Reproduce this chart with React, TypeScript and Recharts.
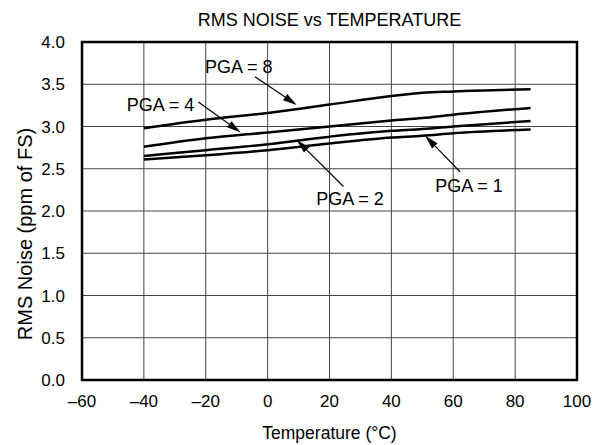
import React from "react";
import {
  LineChart,
  Line,
  XAxis,
  YAxis,
  CartesianGrid,
  ReferenceArea,
  ReferenceLine,
  ReferenceDot,
} from "recharts";

const temperatures = [-40, -20, 0, 20, 40, 50, 60, 85];
const pga8 = [2.98, 3.08, 3.16, 3.26, 3.36, 3.4, 3.415, 3.44];
const pga4 = [2.76, 2.86, 2.93, 3.0, 3.07, 3.1, 3.14, 3.22];
const pga2 = [2.65, 2.72, 2.79, 2.88, 2.95, 2.97, 3.0, 3.065];
const pga1 = [2.61, 2.66, 2.72, 2.8, 2.87, 2.89, 2.92, 2.965];

const xTicks = [-60, -40, -20, 0, 20, 40, 60, 80, 100];
const yTicks = [0, 0.5, 1.0, 1.5, 2.0, 2.5, 3.0, 3.5, 4.0];

const labelTexts = ["PGA = 8", "PGA = 4", "PGA = 2", "PGA = 1"];
const labelX = [-9.3, -34.6, 26.6, 65.1];
const labelY = [3.71, 3.25, 2.14, 2.3];
const arrowFrom = [
  [-4.1, 3.59],
  [-22.4, 3.29],
  [24.5, 2.29],
  [62.2, 2.465],
];
const arrowTo = [
  [9.4, 3.255],
  [-8.7, 2.93],
  [9.4, 2.84],
  [50.9, 2.89],
];

const data = temperatures.map((t, i) => ({
  t,
  pga8: pga8[i],
  pga4: pga4[i],
  pga2: pga2[i],
  pga1: pga1[i],
}));

const FONT = "Arial, 'Liberation Sans', sans-serif";

const fmtX = (v: number) => (v < 0 ? "\u2013" + Math.abs(v) : String(v));
const fmtY = (v: number) => v.toFixed(1);

const Arrow = (props: any) => {
  const { x1, y1, x2, y2 } = props;
  const dx = x2 - x1;
  const dy = y2 - y1;
  const len = Math.sqrt(dx * dx + dy * dy) || 1;
  const ux = dx / len;
  const uy = dy / len;
  const hl = 14;
  const hw = 3.8;
  const bx = x2 - ux * hl;
  const by = y2 - uy * hl;
  const px = -uy;
  const py = ux;
  return (
    <g>
      <line x1={x1} y1={y1} x2={bx} y2={by} stroke="#000" strokeWidth={1.2} />
      <polygon
        points={`${x2},${y2} ${bx + px * hw},${by + py * hw} ${bx - px * hw},${by - py * hw}`}
        fill="#000"
      />
    </g>
  );
};

const makeLabel = (text: string) => (p: any) => (
  <text
    x={p.cx}
    y={p.cy}
    textAnchor="middle"
    dominantBaseline="central"
    fontFamily={FONT}
    fontSize={18}
    fill="#000"
  >
    {text}
  </text>
);

export default function App() {
  return (
    <div style={{ position: "absolute", left: 0, top: 0, background: "#fff" }}>
      <LineChart
        width={594}
        height={445}
        data={data}
        margin={{ top: 42, right: 17, left: 0, bottom: 0 }}
      >
        <text
          x={329.5}
          y={20}
          textAnchor="middle"
          dominantBaseline="central"
          fontFamily={FONT}
          fontSize={18}
          fill="#000"
        >
          RMS NOISE vs TEMPERATURE
        </text>
        <text
          x={329.5}
          y={433}
          textAnchor="middle"
          dominantBaseline="central"
          fontFamily={FONT}
          fontSize={17.5}
          fill="#000"
        >
          Temperature (°C)
        </text>
        <text
          x={25}
          y={234}
          textAnchor="middle"
          dominantBaseline="central"
          fontFamily={FONT}
          fontSize={20}
          fill="#000"
          transform="rotate(-90 25 234)"
        >
          RMS Noise (ppm of FS)
        </text>
        <CartesianGrid stroke="#444" strokeWidth={1} />
        <XAxis
          dataKey="t"
          type="number"
          domain={[-60, 100]}
          ticks={xTicks}
          tickFormatter={fmtX}
          tickLine={false}
          axisLine={false}
          tickSize={0}
          tickMargin={15}
          height={65}
          tick={{ fill: "#000", fontSize: 17, fontFamily: FONT }}
        />
        <YAxis
          type="number"
          domain={[0, 4]}
          ticks={yTicks}
          tickFormatter={fmtY}
          tickLine={false}
          axisLine={false}
          tickSize={0}
          tickMargin={17}
          width={82}
          tick={{ fill: "#000", fontSize: 17, fontFamily: FONT }}
        />
        <ReferenceArea
          x1={-60}
          x2={100}
          y1={0}
          y2={4}
          fill="none"
          fillOpacity={0}
          stroke="#000"
          strokeWidth={2.5}
          ifOverflow="visible"
        />
        <Line dataKey="pga8" type="monotone" stroke="#000" strokeWidth={2.5} dot={false} isAnimationActive={false} />
        <Line dataKey="pga4" type="monotone" stroke="#000" strokeWidth={2.5} dot={false} isAnimationActive={false} />
        <Line dataKey="pga2" type="monotone" stroke="#000" strokeWidth={2.5} dot={false} isAnimationActive={false} />
        <Line dataKey="pga1" type="monotone" stroke="#000" strokeWidth={2.5} dot={false} isAnimationActive={false} />
        {arrowFrom.map((f, i) => (
          <ReferenceLine
            key={"a" + i}
            segment={[
              { x: f[0], y: f[1] },
              { x: arrowTo[i][0], y: arrowTo[i][1] },
            ]}
            ifOverflow="visible"
            shape={Arrow}
          />
        ))}
        {labelTexts.map((t, i) => (
          <ReferenceDot
            key={"l" + i}
            x={labelX[i]}
            y={labelY[i]}
            r={0}
            ifOverflow="visible"
            shape={makeLabel(t)}
          />
        ))}
      </LineChart>
    </div>
  );
}
